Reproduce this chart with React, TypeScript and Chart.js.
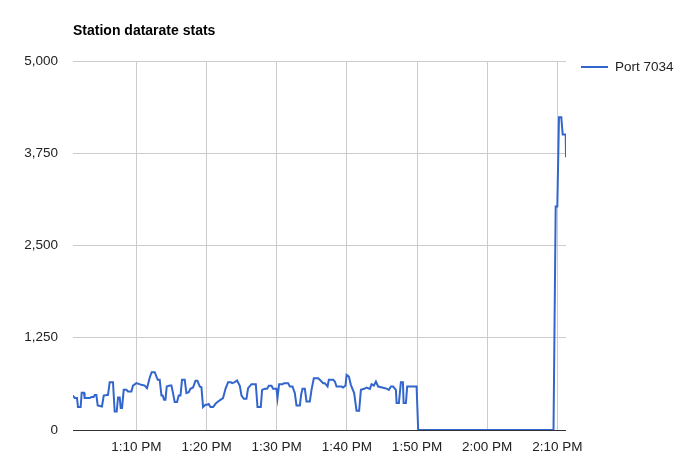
import React, { useEffect, useRef } from "react";
import { Chart, registerables } from "chart.js";

Chart.register(...registerables);

const TITLE = "Station datarate stats";
const SERIES_LABEL = "Port 7034";
const LINE_COLOR = "#3366cc";

// Sample times, in minutes after 1:00 PM
const minutes = [
  0.96, 1.2, 1.53, 1.67, 2.05, 2.2, 2.53, 2.62, 3.34, 3.58, 3.91, 4.05, 4.29, 4.48, 5.09,
  5.34, 5.95, 6.19, 6.66, 6.9, 7.19, 7.38, 7.62, 7.76, 7.95, 8.19, 8.57, 8.8, 9.29, 9.51,
  10.0, 10.71, 11.18, 11.51, 11.9, 12.18, 12.61, 13.04, 13.32, 13.57, 13.75, 13.94, 14.14,
  14.32, 14.75, 14.99, 15.22, 15.46, 15.79, 16.03, 16.28, 16.5, 16.89, 17.13, 17.46, 17.7,
  18.07, 18.42, 18.7, 19.03, 19.27, 19.5, 19.84, 20.07, 20.31, 20.56, 20.93, 21.27, 21.64,
  21.98, 22.35, 22.7, 23.07, 23.45, 23.64, 24.02, 24.35, 24.74, 24.98, 25.31, 25.69, 25.92,
  26.41, 27.02, 27.26, 27.73, 27.92, 28.3, 28.63, 28.87, 29.26, 29.49, 29.97, 30.11, 30.34,
  30.83, 31.06, 31.63, 31.87, 32.25, 32.58, 32.82, 33.3, 33.48, 33.68, 34.01, 34.25, 34.72,
  34.96, 35.29, 35.91, 36.15, 36.62, 36.86, 37.25, 37.43, 38.05, 38.29, 38.53, 39.24, 39.47,
  39.81, 39.96, 40.29, 40.57, 41.04, 41.38, 41.75, 42.0, 42.47, 42.81, 43.28, 43.52, 43.85,
  44.14, 44.46, 45.04, 45.42, 45.75, 45.99, 46.28, 46.6, 46.99, 47.09, 47.42, 47.7, 47.99,
  48.09, 48.42, 48.6, 49.94, 50.17, 69.46, 69.77, 70.0, 70.24, 70.57, 70.77, 71.2, 71.24,
];

// Datarate values
const rates = [
  467, 432, 432, 311, 311, 504, 504, 432, 432, 446, 446, 473, 473, 332, 319,
  467, 477, 648, 648, 251, 251, 440, 440, 297, 297, 544, 544, 521, 521, 602,
  635, 612, 602, 567, 711, 783, 783, 680, 680, 467, 467, 409, 409,
  589, 602, 602, 500, 378, 378, 467, 467, 680, 680, 500, 513, 558,
  576, 666, 666, 589, 580, 311, 342, 342, 351, 311, 311, 355, 386,
  409, 432, 558, 648, 648, 635, 648, 670, 600, 467, 423, 423, 567,
  621, 621, 311, 311, 544, 558, 558, 598, 598, 558, 558, 432, 621,
  621, 635, 635, 589, 589, 500, 332, 332, 477, 558, 558, 386, 386,
  544, 702, 702, 680, 635, 635, 589, 680, 680, 657, 589, 589, 576,
  602, 747, 724, 612, 500, 261, 261, 544, 558, 576, 558, 621, 602,
  657, 589, 576, 567, 558, 544, 589, 589, 544, 365, 365, 648, 648,
  365, 365, 589, 589, 0, 0, 3030, 3030, 4237, 4237, 4003, 4003, 3697,
];

const yTicks = [0, 1250, 2500, 3750, 5000];
const xTickMinutes = [10, 20, 30, 40, 50, 60, 70];
const X_MIN = 0.96;
const X_MAX = 71.24;
const Y_MAX = 5000;

const FONT_FAMILY = 'Arial, "Liberation Sans", sans-serif';

function formatTime(m: number): string {
  const h = 1 + Math.floor(m / 60);
  const mm = Math.round(m % 60);
  return `${h}:${mm.toString().padStart(2, "0")} PM`;
}

const overlayPlugin = {
  id: "overlay",
  afterDraw(chart: any) {
    const { ctx, chartArea } = chart;
    ctx.save();
    ctx.font = `bold 14px ${FONT_FAMILY}`;
    ctx.fillStyle = "#000";
    ctx.textAlign = "left";
    ctx.textBaseline = "alphabetic";
    ctx.fillText(TITLE, chartArea.left, 35);

    const lx = chartArea.right + 15;
    const ly = 67;
    ctx.strokeStyle = LINE_COLOR;
    ctx.lineWidth = 2;
    ctx.beginPath();
    ctx.moveTo(lx, ly);
    ctx.lineTo(lx + 27, ly);
    ctx.stroke();
    ctx.font = `13.5px ${FONT_FAMILY}`;
    ctx.fillStyle = "#222";
    ctx.textBaseline = "middle";
    ctx.fillText(SERIES_LABEL, lx + 34, ly);
    ctx.restore();
  },
};

export default function App() {
  const canvasRef = useRef<HTMLCanvasElement | null>(null);

  useEffect(() => {
    if (!canvasRef.current) return;
    const points = minutes.map((m, i) => ({ x: m, y: rates[i] }));
    const chart = new Chart(canvasRef.current, {
      type: "line",
      data: {
        datasets: [
          {
            label: SERIES_LABEL,
            data: points,
            borderColor: LINE_COLOR,
            borderWidth: 2,
            pointRadius: 0,
            tension: 0,
            fill: false,
          },
        ],
      },
      options: {
        animation: false,
        responsive: false,
        layout: { padding: { top: 61, right: 119, bottom: 0, left: 0 } },
        plugins: {
          legend: { display: false },
          title: { display: false },
          tooltip: { enabled: false },
        },
        scales: {
          x: {
            type: "linear",
            min: X_MIN,
            max: X_MAX,
            afterFit: (scale: any) => {
              scale.height = 32;
            },
            afterBuildTicks: (scale: any) => {
              scale.ticks = xTickMinutes.map((v) => ({ value: v }));
            },
            grid: { color: "#cccccc", drawTicks: false, lineWidth: 1 },
            border: { display: false },
            ticks: {
              autoSkip: false,
              maxRotation: 0,
              padding: 9,
              color: "#222",
              font: { family: FONT_FAMILY, size: 13.5 },
              callback: (v: any) => formatTime(Number(v)),
            },
          },
          y: {
            type: "linear",
            min: 0,
            max: Y_MAX,
            afterFit: (scale: any) => {
              scale.width = 73;
            },
            afterBuildTicks: (scale: any) => {
              scale.ticks = yTicks.map((v) => ({ value: v }));
            },
            grid: {
              drawTicks: false,
              lineWidth: 1,
              color: (c: any) => (c.tick && c.tick.value === 0 ? "#333333" : "#cccccc"),
            },
            border: { display: false },
            ticks: {
              padding: 15,
              color: "#222",
              font: { family: FONT_FAMILY, size: 13.5 },
              callback: (v: any) => Number(v).toLocaleString("en-US"),
            },
          },
        },
      },
      plugins: [overlayPlugin],
    });
    return () => chart.destroy();
  }, []);

  return (
    <div style={{ position: "absolute", left: 0, top: 0, width: 685, height: 462, background: "#fff" }}>
      <canvas ref={canvasRef} width={685} height={462} style={{ display: "block" }} />
    </div>
  );
}
